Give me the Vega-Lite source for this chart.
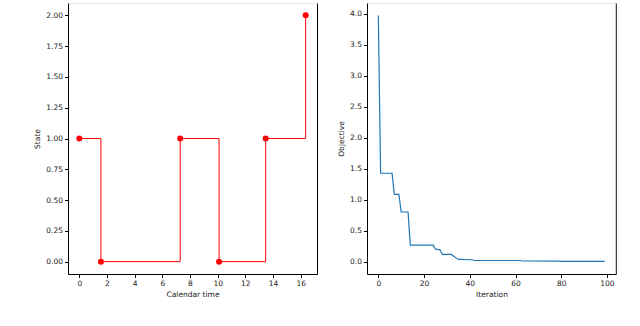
{
  "$schema": "https://vega.github.io/schema/vega-lite/v6.json",
  "padding": {"left": 33, "top": 2, "right": 0, "bottom": 0},
  "background": "white",
  "bounds": "flush",
  "spacing": 50,
  "config": {
    "view": {"stroke": "#e6e6e6", "strokeWidth": 1},
    "axis": {
      "grid": false,
      "domainColor": "#000",
      "domainWidth": 1,
      "tickColor": "#000",
      "tickSize": 3.5,
      "labelFont": "DejaVu Sans",
      "labelFontSize": 7.5,
      "labelColor": "#222",
      "labelPadding": 2,
      "labelFlush": false,
      "titleFont": "DejaVu Sans",
      "titleFontSize": 7.5,
      "titleFontWeight": "normal",
      "titleColor": "#222"
    }
  },
  "datasets": {
    "state": [
      {"time": 0, "state": 1},
      {"time": 1.56, "state": 0},
      {"time": 7.29, "state": 1},
      {"time": 10.1, "state": 0},
      {"time": 13.47, "state": 1},
      {"time": 16.36, "state": 2}
    ],
    "obj": [
      {"iteration": 0, "objective": 3.97},
      {"iteration": 1, "objective": 1.425},
      {"iteration": 6, "objective": 1.425},
      {"iteration": 7, "objective": 1.085},
      {"iteration": 9, "objective": 1.085},
      {"iteration": 10, "objective": 0.8},
      {"iteration": 13, "objective": 0.8},
      {"iteration": 14, "objective": 0.265},
      {"iteration": 24, "objective": 0.265},
      {"iteration": 25, "objective": 0.2},
      {"iteration": 27, "objective": 0.19},
      {"iteration": 28, "objective": 0.115},
      {"iteration": 32, "objective": 0.115},
      {"iteration": 33, "objective": 0.085},
      {"iteration": 34, "objective": 0.06},
      {"iteration": 35, "objective": 0.035},
      {"iteration": 41, "objective": 0.03},
      {"iteration": 42, "objective": 0.018},
      {"iteration": 62, "objective": 0.018},
      {"iteration": 63, "objective": 0.01},
      {"iteration": 79, "objective": 0.008},
      {"iteration": 80, "objective": 0.004},
      {"iteration": 99, "objective": 0.003}
    ]
  },
  "hconcat": [
    {
      "width": 249,
      "height": 271,
      "data": {"name": "state"},
      "layer": [
        {
          "mark": {"type": "line", "interpolate": "step-after", "color": "#ff0000", "strokeWidth": 1},
          "encoding": {
            "x": {"field": "time", "type": "quantitative", "scale": {"domain": [-0.82, 17.18], "nice": false, "zero": false},
              "axis": {"title": "Calendar time", "values": [0, 2, 4, 6, 8, 10, 12, 14, 16], "labelOverlap": false, "titlePadding": 3}},
            "y": {"field": "state", "type": "quantitative", "scale": {"domain": [-0.1, 2.1], "nice": false, "zero": false},
              "axis": {"title": "State", "values": [0, 0.25, 0.5, 0.75, 1, 1.25, 1.5, 1.75, 2], "format": ".2f", "labelOverlap": false, "titlePadding": 4}}
          }
        },
        {
          "mark": {"type": "point", "filled": true, "color": "#ff0000", "size": 36, "opacity": 1},
          "encoding": {
            "x": {"field": "time", "type": "quantitative",
              "axis": {"title": "Calendar time", "values": [0, 2, 4, 6, 8, 10, 12, 14, 16], "labelOverlap": false, "titlePadding": 3}},
            "y": {"field": "state", "type": "quantitative",
              "axis": {"orient": "right", "labels": false, "ticks": false, "title": null, "domainColor": "#000"}}
          }
        }
      ],
      "resolve": {"axis": {"y": "independent"}}
    },
    {
      "width": 249,
      "height": 271,
      "data": {"name": "obj"},
      "layer": [
        {
          "mark": {"type": "line", "color": "#1f77b4", "strokeWidth": 1.2},
          "encoding": {
            "x": {"field": "iteration", "type": "quantitative", "scale": {"domain": [-4.95, 103.95], "nice": false, "zero": false},
              "axis": {"title": "Iteration", "values": [0, 20, 40, 60, 80, 100], "labelOverlap": false, "titlePadding": 3}},
            "y": {"field": "objective", "type": "quantitative", "scale": {"domain": [-0.2, 4.17], "nice": false, "zero": false},
              "axis": {"title": "Objective", "values": [0, 0.5, 1, 1.5, 2, 2.5, 3, 3.5, 4], "format": ".1f", "labelOverlap": false, "titlePadding": 4}}
          }
        },
        {
          "mark": {"type": "point", "opacity": 0},
          "encoding": {
            "x": {"field": "iteration", "type": "quantitative",
              "axis": {"title": "Iteration", "values": [0, 20, 40, 60, 80, 100], "labelOverlap": false, "titlePadding": 3}},
            "y": {"field": "objective", "type": "quantitative",
              "axis": {"orient": "right", "labels": false, "ticks": false, "title": null, "domainColor": "#444", "domainWidth": 1.5}}
          }
        }
      ],
      "resolve": {"axis": {"y": "independent"}}
    }
  ]
}
